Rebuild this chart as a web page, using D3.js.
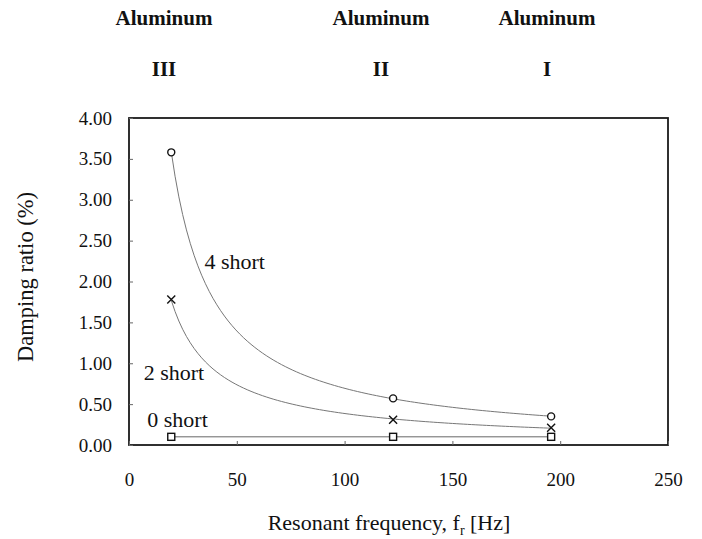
<!DOCTYPE html>
<html>
<head>
<meta charset="utf-8">
<script src="https://cdn.jsdelivr.net/npm/d3@7/dist/d3.min.js"></script>
<style>
  html, body { margin: 0; padding: 0; background: #fff; }
</style>
</head>
<body>
<svg id="chart" width="702" height="539"></svg>
<script>
// Resonant frequency of each aluminum specimen (Hz)
const frequencies = [19.6, 122.5, 195.8];
// Damping ratio (%) for each number of shorted patches
const fourShort = [3.58, 0.57, 0.35];
const twoShort = [1.78, 0.31, 0.21];
const zeroShort = [0.10, 0.10, 0.10];
// Specimen headers
const specimenNames = ["Aluminum", "Aluminum", "Aluminum"];
const specimenNumerals = ["III", "II", "I"];
// Axis ticks
const xTicks = [0, 50, 100, 150, 200, 250];
const yTicks = [0, 0.5, 1, 1.5, 2, 2.5, 3, 3.5, 4];

const SERIF = "Liberation Serif";
const svg = d3.select("#chart").style("font-family", SERIF);
const plotLeft = 129, plotRight = 668, plotTop = 118, plotBottom = 445;

const x = d3.scaleLinear().domain([0, 250]).range([plotLeft, plotRight]);
const y = d3.scaleLinear().domain([0, 4]).range([plotBottom, plotTop]);

// Frame
svg.append("rect")
  .attr("x", plotLeft).attr("y", plotTop)
  .attr("width", plotRight - plotLeft).attr("height", plotBottom - plotTop)
  .attr("fill", "none").attr("stroke", "#1a1a1a").attr("stroke-width", 1.8);

// Axes with inward ticks
const xAxis = svg.append("g").attr("transform", `translate(0,${plotBottom})`)
  .call(d3.axisBottom(x).tickValues(xTicks).tickSizeInner(-4).tickSizeOuter(0).tickPadding(28)
    .tickFormat(d3.format("d")));
const yAxis = svg.append("g").attr("transform", `translate(${plotLeft},0)`)
  .call(d3.axisLeft(y).tickValues(yTicks).tickSizeInner(-4).tickSizeOuter(0).tickPadding(17)
    .tickFormat(d3.format(".2f")));
[xAxis, yAxis].forEach(g => {
  g.attr("font-family", null).attr("font-size", null);
  g.select(".domain").remove();
  g.selectAll(".tick line").attr("stroke", "#666").attr("stroke-width", 1);
  g.selectAll(".tick text").attr("fill", "#111")
    .style("font-family", SERIF).style("font-size", "19px");
});

// Power-law trend line  y = a * x^b  fitted to each series
function powerFit(xs, ys) {
  const lx = xs.map(Math.log), ly = ys.map(Math.log);
  const mx = d3.mean(lx), my = d3.mean(ly);
  const sxy = d3.sum(lx, (v, i) => (v - mx) * (ly[i] - my));
  const sxx = d3.sum(lx, v => (v - mx) * (v - mx));
  const b = sxx === 0 ? 0 : sxy / sxx;
  const a = Math.exp(my - b * mx);
  return f => a * Math.pow(f, b);
}

const line = d3.line().x(d => x(d[0])).y(d => y(d[1]));
[fourShort, twoShort].forEach(vals => {
  const fit = powerFit(frequencies, vals);
  const [f0, f1] = d3.extent(frequencies);
  const pts = d3.range(0, 101).map(i => {
    const f = f0 + (f1 - f0) * i / 100;
    return [f, fit(f)];
  });
  svg.append("path").attr("d", line(pts))
    .attr("fill", "none").attr("stroke", "#777").attr("stroke-width", 1);
});
svg.append("path")
  .attr("d", line(frequencies.map((f, i) => [f, zeroShort[i]])))
  .attr("fill", "none").attr("stroke", "#666").attr("stroke-width", 1);

// Markers
const mk = svg.append("g").attr("fill", "#fff").attr("stroke", "#111").attr("stroke-width", 1.4);
frequencies.forEach((f, i) => {
  mk.append("circle").attr("cx", x(f)).attr("cy", y(fourShort[i])).attr("r", 3.5);
  const cx = x(f), cy = y(twoShort[i]);
  mk.append("path").attr("d", `M${cx - 4},${cy - 4}L${cx + 4},${cy + 4}M${cx - 4},${cy + 4}L${cx + 4},${cy - 4}`);
  mk.append("rect").attr("x", x(f) - 3.5).attr("y", y(zeroShort[i]) - 3.5).attr("width", 7).attr("height", 7);
});

// Series labels
const lab = svg.append("g").attr("fill", "#111")
  .style("font-family", SERIF).style("font-size", "22px");
lab.append("text").attr("x", x(35)).attr("y", y(2.15)).text("4 short");
lab.append("text").attr("x", x(6.8)).attr("y", y(0.79)).text("2 short");
lab.append("text").attr("x", x(8.5)).attr("y", y(0.22)).text("0 short");

// Specimen headers
const headerX = [164, 381, 547];
const hdr = svg.append("g").attr("fill", "#111").attr("text-anchor", "middle")
  .style("font-family", SERIF).style("font-weight", "bold").style("font-size", "21px");
specimenNames.forEach((t, i) => hdr.append("text").attr("x", headerX[i]).attr("y", 25).text(t));
specimenNumerals.forEach((t, i) => hdr.append("text").attr("x", headerX[i]).attr("y", 76).text(t));

// Axis titles
const xt = svg.append("text").attr("x", 389).attr("y", 530).attr("text-anchor", "middle")
  .attr("fill", "#111").style("font-family", SERIF).style("font-size", "22px");
xt.append("tspan").text("Resonant frequency, f");
xt.append("tspan").attr("dy", 5).style("font-size", "14px").text("r");
xt.append("tspan").attr("dy", -5).text(" [Hz]");

svg.append("text").attr("transform", "translate(33,277) rotate(-90)")
  .attr("text-anchor", "middle").attr("fill", "#111")
  .style("font-family", SERIF).style("font-size", "22.5px")
  .text("Damping ratio (%)");
</script>
</body>
</html>
